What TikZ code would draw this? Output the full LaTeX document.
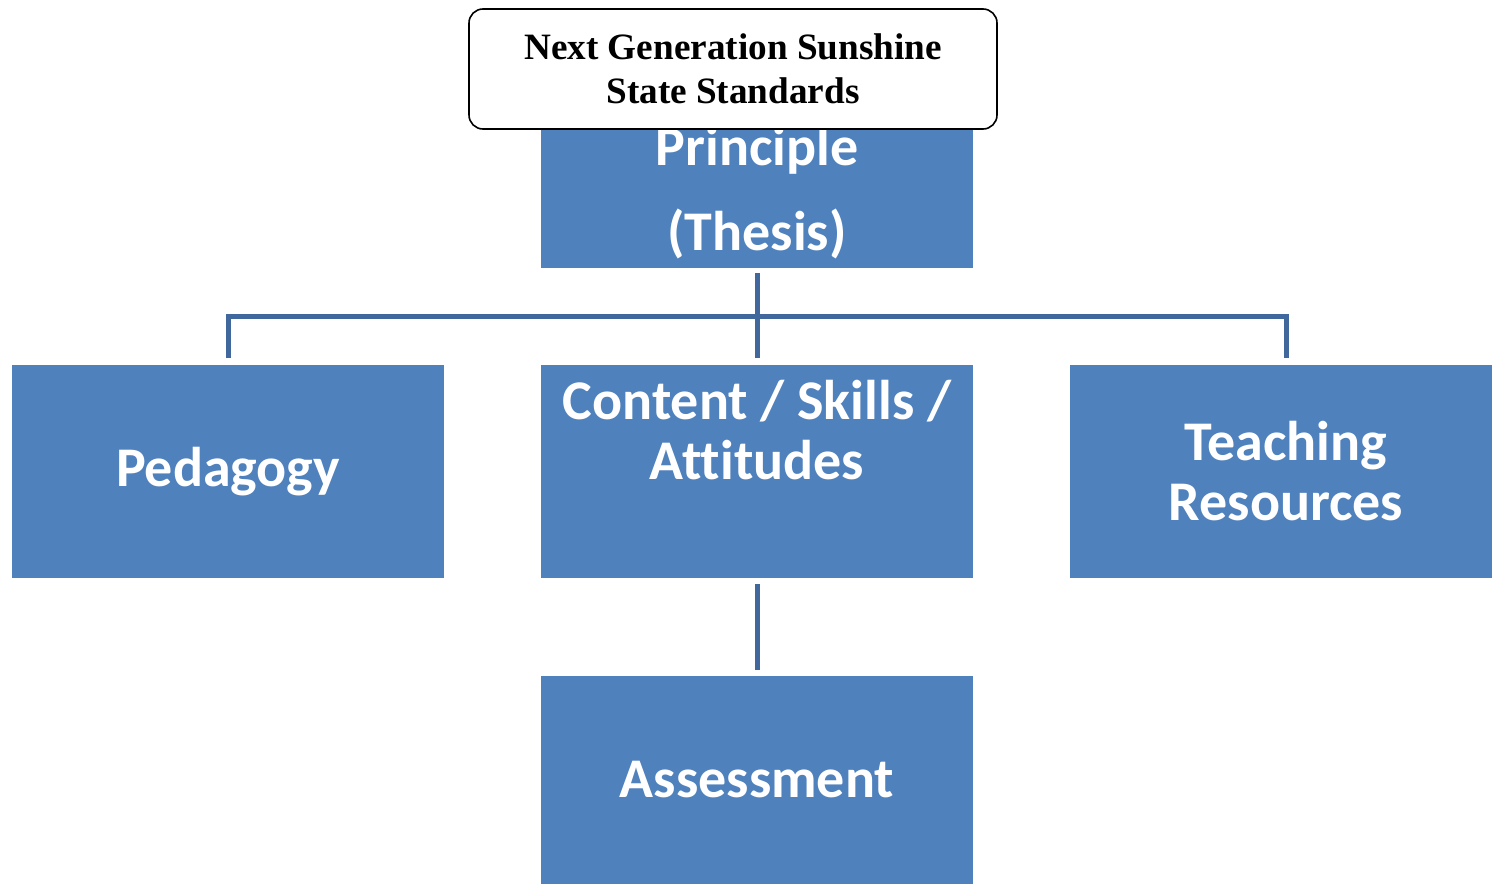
\documentclass[tikz,border=0pt]{standalone}
\usepackage{fontspec}
\setmainfont{Liberation Serif}
\newfontfamily\calibri{Carlito}[Ligatures=NoCommon]
\definecolor{boxblue}{HTML}{4F81BD}
\definecolor{lineblue}{HTML}{41689C}

\begin{document}
\begin{tikzpicture}[x=1pt,y=-1pt,
    block/.style={fill=boxblue,text=white,inner sep=0pt,minimum width=432pt,minimum height=213pt,
        align=center,font=\calibri\bfseries\fontsize{56}{60}\selectfont},
    standards/.style={draw,line width=1.6pt,rounded corners=14pt,fill=white,minimum width=528pt,
        minimum height=120pt,inner sep=0pt,align=center,font=\bfseries\fontsize{37.2}{44}\selectfont},
    link/.style={draw=lineblue,line width=5pt}]
    \useasboundingbox (0,0) rectangle (1492,884);
    \node[block,minimum height=150pt,font=\calibri\bfseries\fontsize{56}{85}\selectfont] (principle)
        at (757,193) {Principle\\(Thesis)};
    \node[standards] (nggss) at (733,69) {Next Generation Sunshine\\State Standards};
    \node[block] (pedagogy) at (228,471.5) {Pedagogy};
    \node[block,text depth=83pt] (content) at (757,471.5) {Content / Skills /\\Attitudes};
    \node[block] (resources) at (1286,471.5) {Teaching\\Resources};
    \node[block,minimum height=208pt] (assessment) at (757,780) {Assessment};
    % connectors
    \draw[link,shorten <=5pt,shorten >=7pt] (principle) -- (content);
    \draw[link,shorten <=7pt,shorten >=7pt] (pedagogy.north) -- ++(0,-48) -| (resources.north);
    \draw[link,shorten <=6pt,shorten >=6pt] (content) -- (assessment);
\end{tikzpicture}
\end{document}
